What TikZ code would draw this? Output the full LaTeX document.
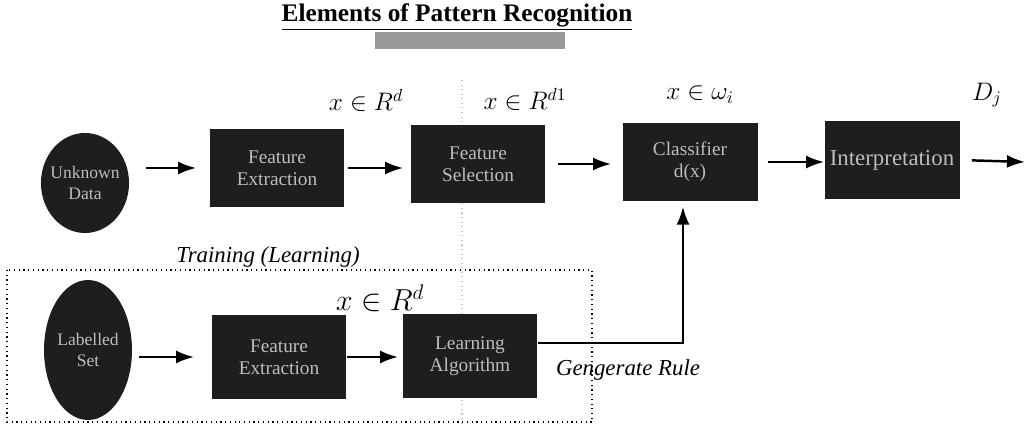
\documentclass[tikz,border=0pt]{standalone}
\usepackage{fontspec}
\setmainfont{Liberation Serif}
\usetikzlibrary{arrows.meta,positioning,shapes.geometric}
\definecolor{bx}{HTML}{1E1E1E}
\definecolor{bt}{HTML}{BDBDBD}
\tikzset{
  blk/.style={
    rectangle, draw=none, fill=bx, text=bt, font=\rmfamily\fontsize{11}{12.5}\selectfont,
    minimum width=2.7cm, minimum height=1.56cm, align=center, inner sep=2pt
  },
  oval/.style={
    ellipse, draw=none, fill=bx, text=bt, font=\rmfamily\fontsize{10}{11.5}\selectfont,
    minimum width=1.72cm, minimum height=2cm, align=center, inner xsep=-2pt, inner ysep=1pt
  },
  arr/.style={-{Latex[length=3.6mm,width=2.6mm]}, line width=1.4pt, black},
  lbl/.style={font=\Large, inner sep=0pt},
  note/.style={font=\rmfamily\fontsize{13}{15}\selectfont\itshape, inner sep=0pt}
}

\begin{document}
\begin{tikzpicture}[x=0.02cm, y=-0.02cm]
\useasboundingbox (0,0) rectangle (1033,428);

% title
\node[font=\bfseries\Large] (title) at (457,17) {\underline{Elements of Pattern Recognition}};
\node[fill=gray!80, minimum width=3.8cm, minimum height=0.34cm, inner sep=0pt] (bar) at (470,41) {};

% faint fold line
\draw[gray!45, dotted, line width=0.6pt] (462,80) -- (462,426);

% recognition row
\node[oval] (unk) at (85,183) {Unknown\\Data};
\node[blk] (fex) at (277,168) {Feature\\Extraction};
\node[blk] (fsel) at (478,164) {Feature\\Selection};
\node[blk] (cls) at (690,162) {Classifier\\d(x)};
\node[blk, font=\rmfamily\fontsize{13}{15}\selectfont] (intp) at (892,160) {Interpretation};
\coordinate (out) at (1025,162);

\draw[arr, shorten <=9.7pt, shorten >=7.4pt] (unk.east |- fex.west) -- (fex.west);
\draw[arr, shorten <=1.7pt, shorten >=4pt] (fex.east) -- (fex.east -| fsel.west);
\draw[arr, shorten <=6.8pt, shorten >=6.3pt] (fsel.east) -- (fsel.east -| cls.west);
\draw[arr, shorten <=5.7pt] (cls.east) -- (cls.east -| intp.west);
\draw[arr, shorten <=6.8pt] (intp.east) -- (out);

\node[lbl] (l1) at (366,100) {$x \in R^{d}$};
\node[lbl] (l2) at (525,99) {$x \in R^{d1}$};
\node[lbl] (l3) at (700,95) {$x \in \omega_i$};
\node[lbl] (l4) at (987,95) {$D_j$};

% training block
\draw[dotted, line width=0.7pt] (7,270) rectangle (592,422);
\node[note] (trn) at (268,257) {Training (Learning)};

\node[oval, minimum width=1.76cm, minimum height=2.8cm] (lab) at (88,350) {Labelled\\Set};
\node[blk, minimum height=1.68cm] (fex2) at (279,357) {Feature\\Extraction};
\node[blk, minimum height=1.68cm] (lrn) at (470,356) {Learning\\Algorithm};

\draw[arr, shorten <=4pt, shorten >=9.7pt] (lab.east |- fex2.west) -- (fex2.west);
\draw[arr, shorten >=2.3pt] (fex2.east) -- (fex2.east -| lrn.west);

\node[lbl, font=\LARGE] (l5) at (380,298) {$x \in R^{d}$};

\draw[arr] ([yshift=0.26cm]lrn.east) -| ([xshift=-0.14cm, yshift=-3pt]cls.south);
\node[note] (gen) at (628,370) {Gengerate Rule};

\end{tikzpicture}
\end{document}
